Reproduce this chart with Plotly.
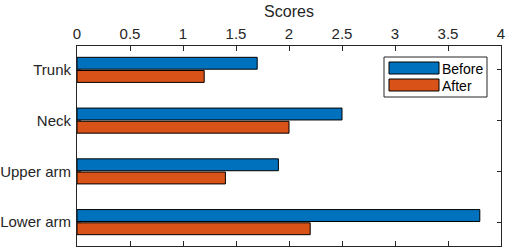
import plotly.graph_objects as go

categories = ["Trunk", "Neck", "Upper arm", "Lower arm"]
before = [1.7, 2.5, 1.9, 3.8]
after = [1.2, 2.0, 1.4, 2.2]
x_ticks = [0, 0.5, 1, 1.5, 2, 2.5, 3, 3.5, 4]
x_tick_labels = ["0", "0.5", "1", "1.5", "2", "2.5", "3", "3.5", "4"]
series_names = ["Before", "After"]
colors = ["#0072BD", "#D95319"]

W, H = 508, 250
L, R, T, B = 77, 7, 46, 4
pw, ph = W - L - R, H - T - B

def px(x):
    return (x - L) / pw

def py(y):
    return (H - B - y) / ph

font = "Liberation Sans, Arial, Helvetica, sans-serif"
ink = "#262626"

fig = go.Figure()
for name, vals, col in zip(series_names, [before, after], colors):
    fig.add_trace(go.Bar(
        y=categories, x=vals, name=name, orientation="h",
        marker=dict(color=col, line=dict(color="black", width=1)),
        showlegend=False,
    ))

shapes = [
    dict(type="rect", xref="paper", yref="paper", x0=px(384), x1=px(487), y0=py(97), y1=py(57),
         line=dict(color=ink, width=1), fillcolor="white", layer="above"),
    dict(type="rect", xref="paper", yref="paper", x0=px(389), x1=px(439), y0=py(74), y1=py(62),
         line=dict(color="black", width=1), fillcolor=colors[0], layer="above"),
    dict(type="rect", xref="paper", yref="paper", x0=px(389), x1=px(439), y0=py(91), y1=py(79),
         line=dict(color="black", width=1), fillcolor=colors[1], layer="above"),
]
annotations = [
    dict(text=series_names[0], xref="paper", yref="paper", x=px(440), y=py(68.5), xanchor="left",
         yanchor="middle", showarrow=False, font=dict(family=font, size=14, color="black")),
    dict(text=series_names[1], xref="paper", yref="paper", x=px(440), y=py(85.5), xanchor="left",
         yanchor="middle", showarrow=False, font=dict(family=font, size=14, color="black")),
]

fig.update_layout(
    width=W, height=H,
    margin=dict(l=L, r=R, t=T, b=B, autoexpand=False),
    paper_bgcolor="white", plot_bgcolor="white",
    barmode="group", bargap=0.48, bargroupgap=0.1,
    font=dict(family=font, size=15, color=ink),
    shapes=shapes, annotations=annotations,
    xaxis=dict(
        side="top", range=[0, 4], tickvals=x_ticks, ticktext=x_tick_labels,
        showgrid=False, zeroline=False, showline=True, linecolor=ink, linewidth=1,
        mirror="allticks", ticks="inside", ticklen=5, tickcolor=ink, tickwidth=1,
        title=dict(text="Scores", font=dict(size=16, color=ink), standoff=3),
        tickfont=dict(size=15, color=ink), automargin=False,
    ),
    yaxis=dict(
        categoryorder="array", categoryarray=categories, autorange=False,
        range=[3.47, -0.47],
        showgrid=False, zeroline=False, showline=True, linecolor=ink, linewidth=1,
        mirror="allticks", ticks="inside", ticklen=4, tickcolor=ink, tickwidth=1,
        tickfont=dict(size=15, color=ink), ticklabelstandoff=2, automargin=False,
    ),
)

fig.write_html(
    "out.html",
    config={"displayModeBar": False},
    post_script="document.body.style.margin='0';document.body.style.overflow='hidden';",
)
